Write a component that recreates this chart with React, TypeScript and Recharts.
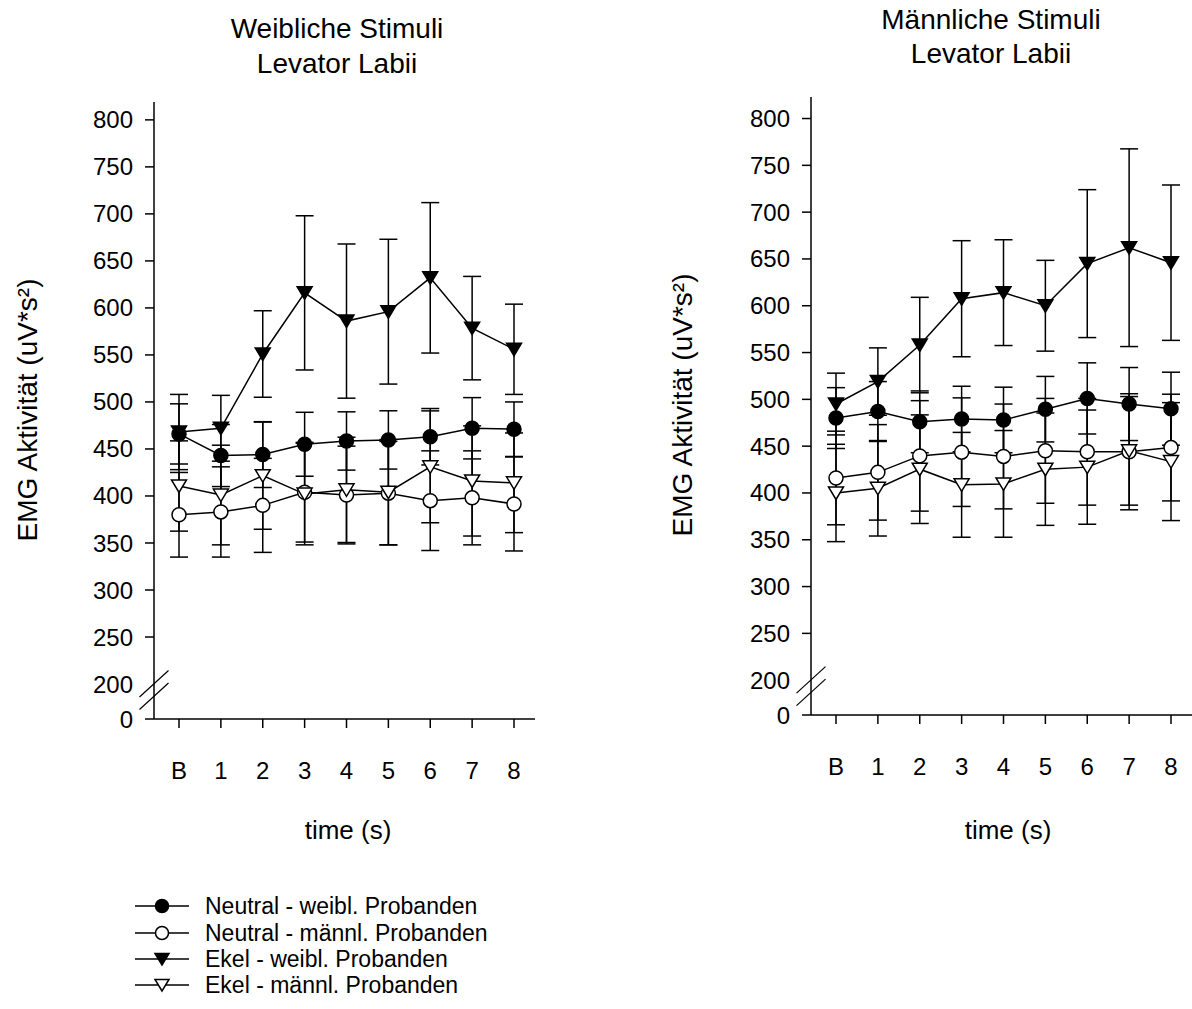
import React from 'react';
import { LineChart, Line, XAxis, YAxis, ErrorBar, Legend } from 'recharts';

const FONT = '"Liberation Sans", Arial, Helvetica, sans-serif';

const TIME_LABELS = ['B', '1', '2', '3', '4', '5', '6', '7', '8'];

// Weibliche Stimuli (left panel): means and SE
const W_NEUTRAL_F = [466, 443, 444, 455, 458.5, 459.6, 463, 472, 471];
const W_NEUTRAL_F_SE = [32, 33, 35, 34, 31, 31, 30, 32.6, 29];
const W_NEUTRAL_M = [380, 383, 390, 404, 401, 403, 395, 398, 391.5];
const W_NEUTRAL_M_SE = [45, 48, 50, 53, 52, 55, 53, 50, 50];
const W_EKEL_F = [468, 472, 551, 616, 586, 596, 632, 578.5, 556];
const W_EKEL_F_SE = [40, 35, 46, 82, 82, 77, 80, 55, 48];
const W_EKEL_M = [410.6, 401, 421.6, 402, 406.5, 404, 431, 416, 414];
const W_EKEL_M_SE = [48, 53, 57, 54, 56, 56, 59.5, 58.6, 53];

// Männliche Stimuli (right panel)
const M_NEUTRAL_F = [480, 487, 476, 479, 478, 489.5, 501, 495, 490];
const M_NEUTRAL_F_SE = [32.5, 32, 33, 35, 35, 35, 38, 39, 39];
const M_NEUTRAL_M = [416, 422, 439.6, 443.6, 439, 445, 444, 444, 448.5];
const M_NEUTRAL_M_SE = [50, 51, 59, 58, 56, 56, 57, 62, 57];
const M_EKEL_F = [495, 519, 558, 607.5, 614, 600, 645, 662, 646];
const M_EKEL_F_SE = [33, 36, 51, 62, 56.5, 48.5, 79, 105.6, 83];
const M_EKEL_M = [400, 405, 425.4, 408.7, 409.7, 425.4, 427.6, 445, 433.5];
const M_EKEL_M_SE = [52, 51, 58, 56, 57, 60, 61, 58, 63];

// axis is broken between 0 and 200; the "0" tick sits at this value
const AXIS_FLOOR = 162.8;
const Y_TICKS = [AXIS_FLOOR, 200, 250, 300, 350, 400, 450, 500, 550, 600, 650, 700, 750, 800];
const TICK_LEN = 9;
const Y_TICK_GAP = 12;

type Shape = 'circle' | 'triangle';

// drawing order: later ones on top
const SERIES: { key: string; name: string; shape: Shape; fill: string }[] = [
  { key: 'ef', name: 'Ekel - weibl. Probanden', shape: 'triangle', fill: '#000' },
  { key: 'nf', name: 'Neutral - weibl. Probanden', shape: 'circle', fill: '#000' },
  { key: 'nm', name: 'Neutral - männl. Probanden', shape: 'circle', fill: '#fff' },
  { key: 'em', name: 'Ekel - männl. Probanden', shape: 'triangle', fill: '#fff' },
];
const LEGEND_ORDER = ['nf', 'nm', 'ef', 'em'];

function buildRows(
  nf: number[], nfSe: number[], nm: number[], nmSe: number[],
  ef: number[], efSe: number[], em: number[], emSe: number[]
) {
  return TIME_LABELS.map((t, i) => ({
    t,
    nf: nf[i], nfSe: nfSe[i],
    nm: nm[i], nmSe: nmSe[i],
    ef: ef[i], efSe: efSe[i],
    em: em[i], emSe: emSe[i],
  }));
}

const leftRows = buildRows(
  W_NEUTRAL_F, W_NEUTRAL_F_SE, W_NEUTRAL_M, W_NEUTRAL_M_SE,
  W_EKEL_F, W_EKEL_F_SE, W_EKEL_M, W_EKEL_M_SE
);
const rightRows = buildRows(
  M_NEUTRAL_F, M_NEUTRAL_F_SE, M_NEUTRAL_M, M_NEUTRAL_M_SE,
  M_EKEL_F, M_EKEL_F_SE, M_EKEL_M, M_EKEL_M_SE
);

function Marker({ cx, cy, shape, fill, size = 7 }: { cx: number; cy: number; shape: Shape; fill: string; size?: number }) {
  if (shape === 'circle') {
    return <circle cx={cx} cy={cy} r={size} fill={fill} stroke="#000" strokeWidth={1.5} />;
  }
  const w = size + 0.5;
  const h = size - 1;
  return (
    <path
      d={`M${cx - w},${cy - h}L${cx + w},${cy - h}L${cx},${cy + h + 0.5}Z`}
      fill={fill}
      stroke="#000"
      strokeWidth={1.5}
    />
  );
}

const renderDot = (shape: Shape, fill: string) => (props: any) => {
  const { cx, cy, index } = props;
  if (cx == null || cy == null) return <g key={index} />;
  return (
    <g key={index}>
      <Marker cx={cx} cy={cy} shape={shape} fill={fill} />
    </g>
  );
};

const YTick = (props: any) => {
  const { x, y, payload } = props;
  const v = payload.value;
  const axisX = x + TICK_LEN + Y_TICK_GAP;
  return (
    <g>
      {v !== 200 && <line x1={axisX - TICK_LEN} x2={axisX} y1={y} y2={y} stroke="#000" strokeWidth={1.5} />}
      <text x={x} y={y} dy="0.355em" textAnchor="end" fontSize={24} fill="#000">
        {v < 200 ? '0' : v}
      </text>
      {v === 200 && (
        <g stroke="#000" strokeWidth={1.2}>
          <line x1={axisX - 14.5} y1={y + 13} x2={axisX + 14.5} y2={y - 13.5} />
          <line x1={axisX - 14.5} y1={y + 25.5} x2={axisX + 14.5} y2={y - 1} />
        </g>
      )}
    </g>
  );
};

const LegendContent = () => (
  <div style={{ fontFamily: FONT }}>
    {LEGEND_ORDER.map((k) => {
      const s = SERIES.find((x) => x.key === k)!;
      return (
        <div key={k} style={{ display: 'flex', alignItems: 'center', height: 26.4 }}>
          <svg width={54} height={20} style={{ display: 'block' }}>
            <line x1={0} x2={54} y1={10} y2={10} stroke="#000" strokeWidth={1.5} />
            <Marker cx={27} cy={10} shape={s.shape} fill={s.fill} size={6.5} />
          </svg>
          <span style={{ marginLeft: 16, whiteSpace: 'nowrap', fontSize: 23, color: '#000', lineHeight: '26px' }}>
            {s.name}
          </span>
        </div>
      );
    })}
  </div>
);

type PanelProps = {
  rows: any[];
  left: number;
  width: number;
  top: number;
  plotBottom: number;
  rightMargin: number;
  yAxisWidth: number;
  yMax: number;
  withLegend?: boolean;
};

const CHART_H = 1009;
const X_AXIS_H = 60;

function Panel({ rows, left, width, top, plotBottom, rightMargin, yAxisWidth, yMax, withLegend }: PanelProps) {
  return (
    <div style={{ position: 'absolute', left, top: 0 }}>
      <LineChart
        width={width}
        height={CHART_H}
        data={rows}
        margin={{ top, right: rightMargin, left: 0, bottom: CHART_H - plotBottom - X_AXIS_H }}
      >
        <XAxis
          dataKey="t"
          type="category"
          padding={{ left: 25, right: 21 }}
          height={X_AXIS_H}
          stroke="#000"
          strokeWidth={1.5}
          tickSize={TICK_LEN}
          tickMargin={34}
          tick={{ fill: '#000', fontSize: 24 }}
          interval={0}
        />
        <YAxis
          type="number"
          domain={[AXIS_FLOOR, yMax]}
          ticks={Y_TICKS}
          width={yAxisWidth}
          stroke="#000"
          strokeWidth={1.5}
          tickLine={false}
          tickSize={TICK_LEN}
          tickMargin={Y_TICK_GAP}
          tick={(p: any) => <YTick {...p} />}
          interval={0}
          allowDataOverflow
        />
        {SERIES.map((s) => (
          <Line
            key={s.key + '-err'}
            dataKey={s.key}
            stroke="none"
            dot={false}
            activeDot={false}
            legendType="none"
            isAnimationActive={false}
          >
            <ErrorBar
              dataKey={s.key + 'Se'}
              direction="y"
              width={9}
              stroke="#000"
              strokeWidth={1.5}
              isAnimationActive={false}
            />
          </Line>
        ))}
        {SERIES.map((s) => (
          <Line
            key={s.key}
            dataKey={s.key}
            name={s.name}
            stroke="#000"
            strokeWidth={1.5}
            dot={renderDot(s.shape, s.fill)}
            activeDot={false}
            isAnimationActive={false}
          />
        ))}
        {withLegend && (
          <Legend
            layout="vertical"
            align="center"
            verticalAlign="middle"
            content={<LegendContent />}
            wrapperStyle={{ left: 135, top: 893, width: 420, height: 110 }}
          />
        )}
      </LineChart>
    </div>
  );
}

const textBase: React.CSSProperties = {
  position: 'absolute',
  textAlign: 'center',
  color: '#000',
  fontFamily: FONT,
  whiteSpace: 'nowrap',
};

export default function App() {
  return (
    <div style={{ position: 'absolute', left: 0, top: 0, width: 1192, height: 1009, background: '#fff', fontFamily: FONT, overflow: 'hidden' }}>
      <Panel rows={leftRows} left={0} width={560} top={102} plotBottom={719} rightMargin={25} yAxisWidth={154} yMax={819} withLegend />
      <Panel rows={rightRows} left={640} width={552} top={97} plotBottom={715} rightMargin={0} yAxisWidth={171} yMax={823} />

      <div style={{ ...textBase, left: 137, top: 12, width: 400, fontSize: 28, lineHeight: '34.5px' }}>
        Weibliche Stimuli<br />Levator Labii
      </div>
      <div style={{ ...textBase, left: 791, top: 3, width: 400, fontSize: 28, lineHeight: '34px' }}>
        Männliche Stimuli<br />Levator Labii
      </div>

      <div style={{ ...textBase, left: 28 - 200, top: 410 - 15, width: 400, height: 30, fontSize: 28, lineHeight: '30px', transform: 'rotate(-90deg)' }}>
        EMG Aktivität (uV*s²)
      </div>
      <div style={{ ...textBase, left: 683 - 200, top: 405 - 15, width: 400, height: 30, fontSize: 28, lineHeight: '30px', transform: 'rotate(-90deg)' }}>
        EMG Aktivität (uV*s²)
      </div>

      <div style={{ ...textBase, left: 348 - 100, top: 830 - 15, width: 200, fontSize: 26, lineHeight: '30px' }}>
        time (s)
      </div>
      <div style={{ ...textBase, left: 1008 - 100, top: 830 - 15, width: 200, fontSize: 26, lineHeight: '30px' }}>
        time (s)
      </div>
    </div>
  );
}
